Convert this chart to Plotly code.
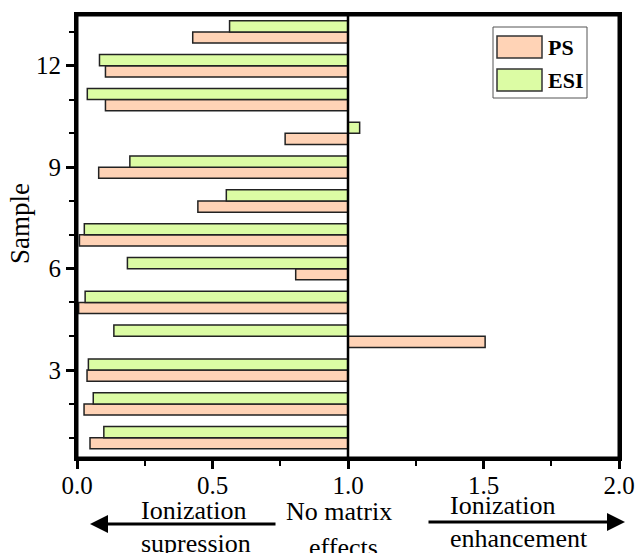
import plotly.graph_objects as go

samples = list(range(1, 14))
ps_values = [0.048, 0.026, 0.037, 1.506, 0.006, 0.807, 0.009, 0.446, 0.080, 0.768, 0.105, 0.105, 0.427]
esi_values = [0.099, 0.060, 0.042, 0.136, 0.030, 0.186, 0.027, 0.551, 0.195, 1.043, 0.038, 0.083, 0.563]
baseline = 1.0
x_ticks = [0.0, 0.5, 1.0, 1.5, 2.0]
x_tick_labels = ["0.0", "0.5", "1.0", "1.5", "2.0"]
y_ticks = [3, 6, 9, 12]

PS_COLOR = "#FFD3B6"
ESI_COLOR = "#DCFCA4"
FONT = "Liberation Serif, Times New Roman, DejaVu Serif, serif"

PLOT_L, PLOT_T, PLOT_W, PLOT_H = 77, 15, 542, 443
FIG_W, FIG_H = 636, 553

fig = go.Figure()
fig.add_trace(go.Bar(
    y=samples, x=[v - baseline for v in ps_values], base=baseline,
    orientation="h", name="PS",
    marker=dict(color=PS_COLOR, line=dict(color="#222", width=1.5)),
    showlegend=False,
))
fig.add_trace(go.Bar(
    y=samples, x=[v - baseline for v in esi_values], base=baseline,
    orientation="h", name="ESI",
    marker=dict(color=ESI_COLOR, line=dict(color="#222", width=1.5)),
    showlegend=False,
))

fig.update_layout(
    width=FIG_W, height=FIG_H,
    margin=dict(l=PLOT_L, r=FIG_W - PLOT_L - PLOT_W, t=PLOT_T, b=FIG_H - PLOT_T - PLOT_H,
                autoexpand=False),
    paper_bgcolor="white", plot_bgcolor="white",
    barmode="group", bargap=0.34, bargroupgap=0,
    font=dict(family=FONT, color="black"),
)
fig.update_xaxes(
    range=[0, 2], tickvals=x_ticks, ticktext=x_tick_labels, automargin=False,
    ticks="outside", ticklen=8, tickwidth=2.5, tickcolor="black",
    minor=dict(dtick=0.25, ticks="outside", ticklen=5, tickwidth=2, tickcolor="black"),
    showline=True, linewidth=3, linecolor="black", mirror=True,
    showgrid=False, zeroline=False,
    tickfont=dict(size=25, family=FONT),
    ticklabelstandoff=-5,
)
fig.update_yaxes(
    range=[0.4, 13.5], tickvals=y_ticks, automargin=False,
    ticks="outside", ticklen=8, tickwidth=2.5, tickcolor="black",
    minor=dict(dtick=1, tick0=0, ticks="outside", ticklen=5, tickwidth=2, tickcolor="black"),
    showline=True, linewidth=3, linecolor="black", mirror=True,
    showgrid=False, zeroline=False,
    tickfont=dict(size=25, family=FONT),
)

def px_x(px):
    return (px - PLOT_L) / PLOT_W

def px_y(py):
    return 1 - (py - PLOT_T) / PLOT_H

# frame and vertical line at x = 1 (no matrix effect)
fig.add_shape(type="rect", xref="paper", yref="paper", x0=0, x1=1, y0=0, y1=1,
              line=dict(color="black", width=3), fillcolor="rgba(0,0,0,0)", layer="above")
fig.add_shape(type="line", xref="x", yref="paper", x0=baseline, x1=baseline, y0=0, y1=1,
              line=dict(color="black", width=2.5))

# y-axis title
fig.add_annotation(xref="paper", yref="paper", x=px_x(20), y=px_y(224), text="Sample",
                   textangle=-90, showarrow=False, xanchor="center", yanchor="middle",
                   font=dict(size=27, family=FONT))

# custom legend
fig.add_shape(type="rect", xref="paper", yref="paper",
              x0=px_x(493), x1=px_x(587), y0=px_y(98), y1=px_y(27),
              line=dict(color="#555", width=1), fillcolor="white")
for (y0p, y1p, col, label, yc) in [(36, 58, PS_COLOR, "PS", 47), (69, 91, ESI_COLOR, "ESI", 80)]:
    fig.add_shape(type="rect", xref="paper", yref="paper",
                  x0=px_x(497), x1=px_x(542), y0=px_y(y1p), y1=px_y(y0p),
                  line=dict(color="#333", width=1.5), fillcolor=col)
    fig.add_annotation(xref="paper", yref="paper", x=px_x(546), y=px_y(yc), text=f"<b>{label}</b>",
                       showarrow=False, xanchor="left", yanchor="middle",
                       font=dict(size=22, family=FONT))

texts = [
    ("Ionization", 193, 510), ("supression", 196, 543),
    ("No matrix", 339, 511), ("effects", 343, 547),
    ("Ionization", 502, 505), ("enhancement", 519, 538),
]
for t, cx, cy in texts:
    fig.add_annotation(xref="paper", yref="paper", x=px_x(cx), y=px_y(cy), text=t,
                       showarrow=False, xanchor="center", yanchor="middle",
                       font=dict(size=26, family=FONT))

# arrows
fig.add_annotation(xref="paper", yref="paper", x=px_x(90), y=px_y(524),
                   ax=277 - 90, ay=0,
                   text="", showarrow=True, arrowhead=2, arrowsize=1.2, arrowwidth=3, arrowcolor="black")
fig.add_annotation(xref="paper", yref="paper", x=px_x(625), y=px_y(522),
                   ax=427 - 625, ay=0,
                   text="", showarrow=True, arrowhead=2, arrowsize=1.2, arrowwidth=3, arrowcolor="black")

fig.write_html(
    "out.html",
    config={"displayModeBar": False},
    post_script="document.body.style.margin='0';document.body.style.overflow='hidden';",
)
